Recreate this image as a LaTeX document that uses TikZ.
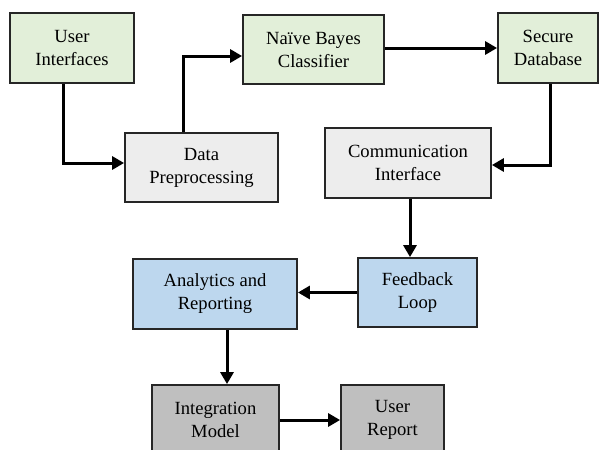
\documentclass[tikz,border=0pt]{standalone}
\usepackage{fontspec}
\setmainfont{Liberation Serif}
\usetikzlibrary{arrows.meta,calc}
\definecolor{cgreen}{HTML}{E2EFD9}
\definecolor{clgray}{HTML}{EDEDED}
\definecolor{cblue}{HTML}{BDD7EE}
\definecolor{cgray}{HTML}{BFBFBF}
\tikzset{
  box/.style={draw=black!85, line width=1.8pt, align=center, inner sep=0pt,
    font=\fontsize{18.6}{23}\selectfont},
  arr/.style={line width=3pt, -{Triangle[length=12pt,width=13pt]}},
}
\begin{document}
\begin{tikzpicture}[x=1pt,y=-1pt]
\useasboundingbox (0,0) rectangle (600,450);
\clip (0,0) rectangle (600,450);
\fill[white] (0,0) rectangle (600,450);
\node[box, fill=cgreen, minimum width=124pt, minimum height=70pt] (ui) at (72,48) {User\\Interfaces};
\node[box, fill=clgray, minimum width=153pt, minimum height=69pt] (dp) at (201.5,167.5) {Data\\Preprocessing};
\node[box, fill=cgreen, minimum width=141pt, minimum height=69pt] (nb) at (313.5,49.5) {Naïve Bayes\\Classifier};
\node[box, fill=cgreen, minimum width=100pt, minimum height=70pt] (sd) at (548,48) {Secure\\Database};
\node[box, fill=clgray, minimum width=166pt, minimum height=70pt] (ci) at (408,163) {Communication\\Interface};
\node[box, fill=cblue, minimum width=119pt, minimum height=69pt] (fl) at (417.5,292.5) {Feedback\\Loop};
\node[box, fill=cblue, minimum width=164pt, minimum height=70pt] (ar) at (215,294) {Analytics and\\Reporting};
\node[box, fill=cgray, minimum width=127pt, minimum height=70pt] (im) at (215.5,420) {Integration\\Model};
\node[box, fill=cgray, minimum width=103pt, minimum height=70pt] (ur) at (392.5,420) {User\\Report};

\draw[arr] ([xshift=-9pt]ui.south) |- ([yshift=4.5pt]dp.west);
\draw[arr] ([xshift=-18.5pt]dp.north) |- ([yshift=-6.5pt]nb.west);
\draw[arr] ([yshift=1.5pt]nb.east) -- ([yshift=1.5pt]nb.east -| sd.west);
\draw[arr] ([xshift=2pt]sd.south) |- ([yshift=-2pt]ci.east);
\draw[arr] ([xshift=2pt]ci.south) -- ([xshift=2pt]ci.south |- fl.north);
\draw[arr] (fl.west) -- (fl.west -| ar.east);
\draw[arr] ([xshift=12pt]ar.south) -- ([xshift=12pt]ar.south |- im.north);
\draw[arr] (im.east) -- (im.east -| ur.west);
\end{tikzpicture}
\end{document}
